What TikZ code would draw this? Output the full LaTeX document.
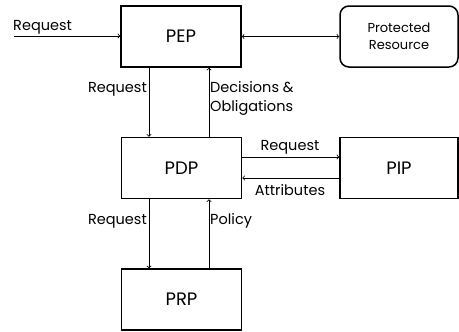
\documentclass[tikz,border=0pt]{standalone}
\usepackage{fontspec}
\setmainfont{Poppins}
\usepackage{tikz}
\usetikzlibrary{arrows,shapes}
\usetikzlibrary{calc}

\tikzset{
	block/.style={draw, line width=1.5pt, minimum width=120pt, minimum height=61pt, inner sep=0pt, font=\fontsize{18}{20}\selectfont},
	store/.style={block, rounded corners=9pt, minimum width=118pt, font=\fontsize{13}{17}\selectfont, align=center},
	flow/.style={line width=0.8pt, ->},
	lbl/.style={inner sep=1pt, font=\fontsize{14.5}{19}\selectfont}
}

\begin{document}
\begin{tikzpicture}[x=1pt,y=-1pt]

	\useasboundingbox (0,0) rectangle (459,332);

	% boxes
	\node[block] (pep) at (181,36.5) {PEP};
	\node[store] (res) at (399,36.5) {Protected\\Resource};
	\node[block] (pdp) at (181.5,168) {PDP};
	\node[block,minimum width=118pt] (pip) at (399,168) {PIP};
	\node[block] (prp) at (181.5,299.5) {PRP};

	\coordinate (in) at (14,36);

	% connectors
	\draw[flow] (in) -- (in -| pep.west);
	\draw[line width=0.8pt,<->] (pep.east) -- (res.west);
	\draw[flow] ([xshift=-32pt]pep.south) -- ([xshift=-32.5pt]pdp.north);
	\draw[flow] ([xshift=27.5pt]pdp.north) -- ([xshift=28pt]pep.south);
	\draw[flow] ([yshift=11pt]pdp.east) -- ([yshift=11pt]pip.west);
	\draw[flow] ([yshift=-10pt]pip.west) -- ([yshift=-10pt]pdp.east);
	\draw[flow] ([xshift=-32.5pt]pdp.south) -- ([xshift=-32.5pt]prp.north);
	\draw[flow] ([xshift=27.5pt]prp.north) -- ([xshift=27.5pt]pdp.south);

	% labels
	\node[lbl,above right] (l1) at (12,35) {Request};
	\node[lbl,left] (l2) at (148,89) {Request};
	\node[lbl,right,align=left] (l3) at (209,98.5) {Decisions \&\\Obligations};
	\node[lbl] (l4) at (290,147) {Request};
	\node[lbl] (l5) at (290,190) {Attributes};
	\node[lbl,left] (l6) at (148,221) {Request};
	\node[lbl,right] (l7) at (209,221) {Policy};

\end{tikzpicture}
\end{document}
